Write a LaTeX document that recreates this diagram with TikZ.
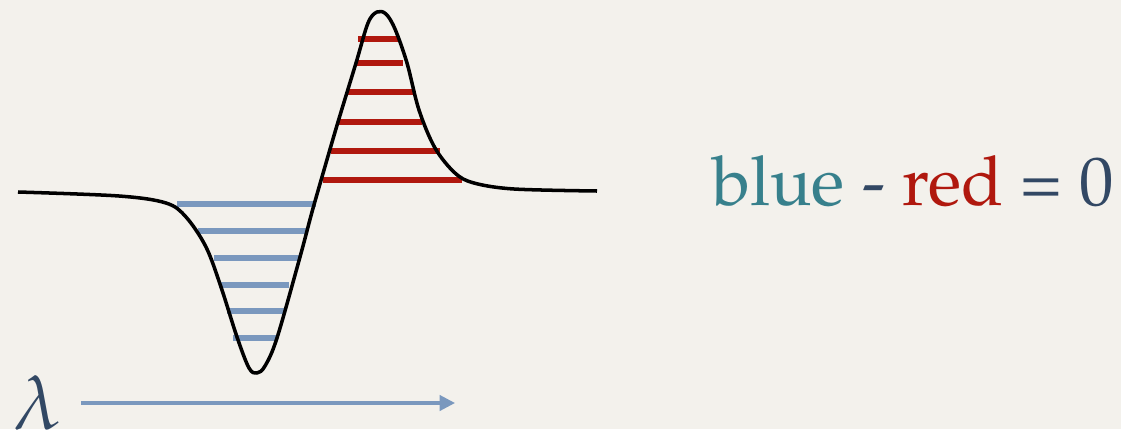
\documentclass[tikz,border=0pt]{standalone}
\usepackage[T1]{fontenc}
\usepackage{mathpazo}
\usepackage{tikz}
\usetikzlibrary{arrows.meta,positioning}
\definecolor{paper}{RGB}{243,241,236}
\definecolor{lred}{RGB}{176,24,14}
\definecolor{lblue}{RGB}{122,152,190}
\definecolor{lteal}{RGB}{55,128,140}
\definecolor{lslate}{RGB}{50,72,100}
\begin{document}
\begin{tikzpicture}[x=0.025cm,y=-0.025cm,
  curve/.style={draw=black,line width=2.5pt,line join=round},
  redbar/.style={draw=lred,line width=3.8pt},
  bluebar/.style={draw=lblue,line width=3.8pt},
  axisarrow/.style={draw=lblue,line width=2.2pt,-{Triangle[length=11pt,width=11pt]}}]
  \fill[paper] (0,0) rectangle (1121,429);
  \useasboundingbox (0,0) rectangle (1121,429);
  % absorption bars
  \draw[bluebar] (177,204) -- (316,204);
  \draw[bluebar] (198,231) -- (307,231);
  \draw[bluebar] (214,258) -- (299,258);
  \draw[bluebar] (219,285) -- (289,285);
  \draw[bluebar] (227,311) -- (285,311);
  \draw[bluebar] (233,338) -- (278,338);
  % emission bars
  \draw[redbar] (358,39) -- (400,39);
  \draw[redbar] (356,63) -- (403,63);
  \draw[redbar] (346,92) -- (415,92);
  \draw[redbar] (337,122) -- (422,122);
  \draw[redbar] (331,151) -- (440,151);
  \draw[redbar] (323,180) -- (462,180);
  % line profile
  \draw[curve] plot[smooth,tension=0.55] coordinates {(18,192) (119,196) (166,203)
    (186,217) (206,247) (221,287) (237,337) (249,368) (257,373) (265,366)
    (277,338) (300,257) (312,212) (324,170) (338,122) (356,63) (368,23)
    (377,12) (386,14) (395,29) (407,63) (419,110) (435,148) (455,173)
    (474,183) (514,189) (597,191)};
  % wavelength axis
  \node[lslate,font=\fontsize{54}{56}\selectfont,anchor=base west,inner sep=0pt] (lam) at (13,429) {$\lambda$};
  \coordinate (axstart) at (81,403);
  \coordinate (axend) at (455,403);
  \draw[axisarrow] (axstart) -- (axend);
  \node[font=\fontsize{49}{52}\selectfont,anchor=base west,inner sep=0pt] (eqn) at (712,205)
    {\textcolor{lteal}{blue} \textcolor{lslate}{-} \textcolor{lred}{red} \textcolor{lslate}{= 0}};
\end{tikzpicture}
\end{document}
